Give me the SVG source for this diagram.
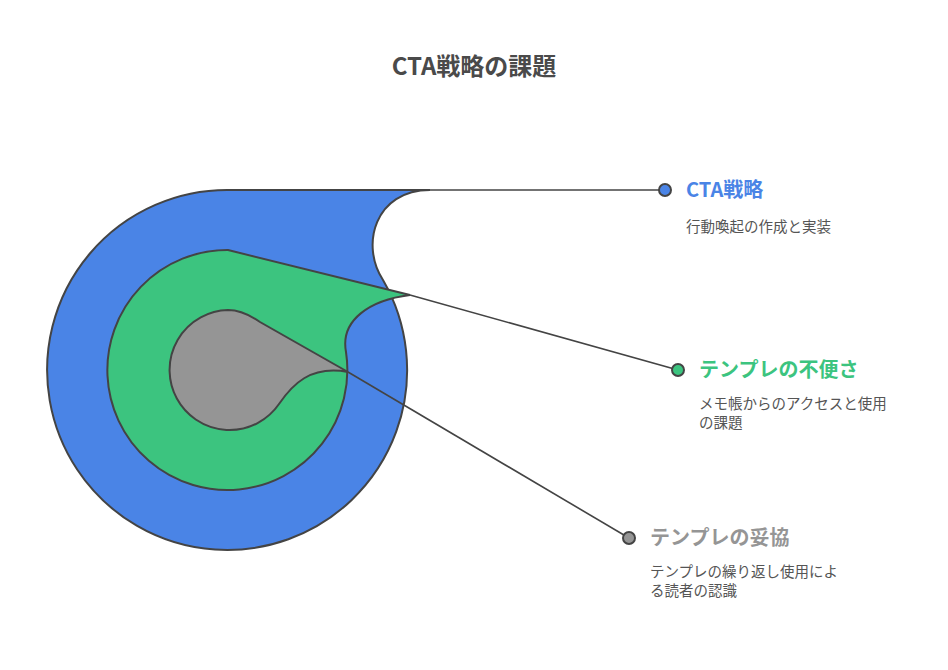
<svg xmlns="http://www.w3.org/2000/svg" width="948" height="670" viewBox="0 0 948 670">
<style>
text{font-family:"Noto Sans CJK JP","Noto Sans",sans-serif}
.t{font-size:24px;font-weight:bold;fill:#4a4a4a}
.h{font-size:20px;font-weight:bold}
.d{font-size:14.5px;fill:#555}
.s{stroke:#444;stroke-width:2}
.l{stroke:#444;stroke-width:1.6;fill:none}
</style>
<rect width="948" height="670" fill="#fff"/>
<text class="t" x="474" y="75" text-anchor="middle">CTA戦略の課題</text>
<g id="blue"><path class="s" fill="#4a84e6" d="M430 190 L228 190 A180 180 0 1 0 383 280 C360 245 375 190 430 190 Z"/></g>
<g id="green"><path class="s" fill="#3cc47f" d="M228 250 L410 295 C370 300 340 320 346 352 A120 120 0 1 1 228 250 Z"/></g>
<g id="gray"><path class="s" fill="#959595" d="M228 310 C240 310 250 315 260 322 L348 372 C310 365 292 385 279 404 A60 60 0 1 1 228 310 Z"/></g>
<g id="connectors">
<path class="l" d="M430 190 L665 190"/>
<path class="l" d="M410 295 L678 370"/>
<path class="l" d="M348 372 L629 538"/>
</g>
<g id="l1"><circle cx="665" cy="190" r="6" fill="#4a84e6" class="s"/>
<text class="h" x="686" y="197" fill="#4a84e6">CTA戦略</text>
<text class="d" x="686" y="232">行動喚起の作成と実装</text></g>
<g id="l2"><circle cx="678" cy="370" r="6" fill="#3cc47f" class="s"/>
<text class="h" x="699" y="377" fill="#3cc47f">テンプレの不便さ</text>
<text class="d" x="699" y="409">メモ帳からのアクセスと使用</text>
<text class="d" x="699" y="428">の課題</text></g>
<g id="l3"><circle cx="629" cy="538" r="6" fill="#959595" class="s"/>
<text class="h" x="650" y="545" fill="#959595">テンプレの妥協</text>
<text class="d" x="650" y="577">テンプレの繰り返し使用によ</text>
<text class="d" x="650" y="596">る読者の認識</text></g>
</svg>
